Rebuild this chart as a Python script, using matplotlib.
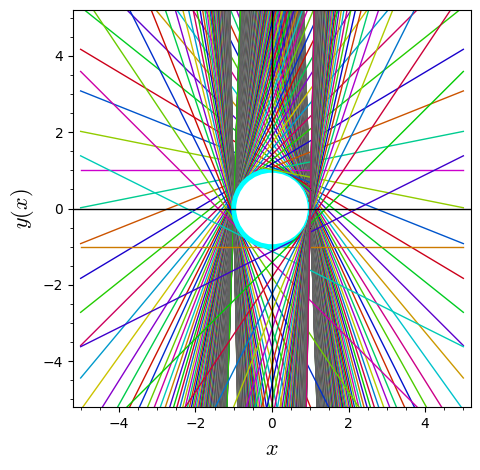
import colorsys
import matplotlib
matplotlib.use('Agg')
import matplotlib.pyplot as plt
from matplotlib.patches import Circle

# Lines y = m*x + b. Only the m >= 0 half is listed,
# the other half is the mirror image.
upper_slopes = [
    0.2, 0.4, 0.6, 0.8, 1.0, 1.2, 1.4, 1.6, 1.8, 2.0, 2.2, 2.4, 2.6, 2.8, 3.0, 3.2, 3.4, 3.6, 3.8, 4.0,
    4.2, 4.4, 4.6, 4.8, 5.0, 5.2, 5.4, 5.6, 5.8, 6.0, 6.2, 6.4, 6.6, 6.8, 7.0, 7.2, 7.4, 7.6, 7.8, 8.0,
    8.2, 8.4, 8.6, 8.8, 9.0, 9.2, 9.4, 9.6, 9.8, 10.0, 10.2, 10.4, 10.6, 10.8, 11.0, 11.2, 11.4, 11.6, 11.8, 12.0,
    12.2, 12.4, 12.6, 12.8, 13.0, 13.2, 13.4, 13.6, 13.8, 14.0, 14.2, 14.4, 14.6, 14.8, 15.0, 15.2, 15.4, 15.6, 15.8, 16.0,
    16.2, 16.4, 16.6, 16.8, 17.0, 17.2, 17.4, 17.6, 17.8, 18.0, 18.2, 18.4, 18.6, 18.8, 19.0, 19.2, 19.4, 19.6, 19.8, 20.0,
    20.2, 20.4, 20.6, 20.8, 21.0, 21.2, 21.4, 21.6, 21.8, 22.0, 22.2, 22.4, 22.6, 22.8, 23.0, 23.2, 23.4, 23.6, 23.8, 24.0,
    24.2, 24.4, 24.6, 24.8, 25.0, 25.2, 25.4, 25.6, 25.8, 26.0, 26.2, 26.4, 26.6, 26.8, 27.0, 27.2, 27.4, 27.6, 27.8, 28.0,
    28.2, 28.4, 28.6, 28.8, 29.0, 29.2, 29.4, 29.6,
]
upper_intercepts = [
    1.02, 1.08, 1.17, 1.28, 1.41, 1.56, 1.72, 1.89, 2.06, 2.24, 2.42, 2.60, 2.79, 2.97, 3.16, 3.35, 3.54, 3.74, 3.93, 4.12,
    4.32, 4.51, 4.71, 4.90, 5.10, 5.30, 5.49, 5.69, 5.89, 6.08, 6.28, 6.48, 6.68, 6.87, 7.07, 7.27, 7.47, 7.67, 7.86, 8.06,
    8.26, 8.46, 8.66, 8.86, 9.06, 9.25, 9.45, 9.65, 9.85, 10.05, 10.25, 10.45, 10.65, 10.85, 11.05, 11.24, 11.44, 11.64, 11.84, 12.04,
    12.24, 12.44, 12.64, 12.84, 13.04, 13.24, 13.44, 13.64, 13.84, 14.04, 14.24, 14.43, 14.63, 14.83, 15.03, 15.23, 15.43, 15.63, 15.83, 16.03,
    16.23, 16.43, 16.63, 16.83, 17.03, 17.23, 17.43, 17.63, 17.83, 18.03, 18.23, 18.43, 18.63, 18.83, 19.03, 19.23, 19.43, 19.63, 19.83, 20.02,
    20.22, 20.42, 20.62, 20.82, 21.02, 21.22, 21.42, 21.62, 21.82, 22.02, 22.22, 22.42, 22.62, 22.82, 23.02, 23.22, 23.42, 23.62, 23.82, 24.02,
    24.22, 24.42, 24.62, 24.82, 25.02, 25.22, 25.42, 25.62, 25.82, 26.02, 26.22, 26.42, 26.62, 26.82, 27.02, 27.22, 27.42, 27.62, 27.82, 28.02,
    28.22, 28.42, 28.62, 28.82, 29.02, 29.22, 29.42, 29.62,
]
lower_slopes = [
    0.5, 1.0, 1.5, 2.0, 2.5, 3.0, 3.5, 4.0, 4.5, 5.0, 5.5, 6.0, 6.5, 7.0, 7.5, 8.0, 8.5, 9.0, 9.5, 10.0,
    10.5, 11.0, 11.5, 12.0, 12.5, 13.0, 13.5, 14.0, 14.5, 15.0, 15.5, 16.0, 16.5, 17.0, 17.5, 18.0, 18.5, 19.0, 19.5, 20.0,
    20.5, 21.0, 21.5, 22.0, 22.5, 23.0, 23.5, 24.0, 24.5, 25.0, 25.5, 26.0, 26.5, 27.0, 27.5, 28.0, 28.5, 29.0, 29.5, 30.0,
    30.5, 31.0, 31.5, 32.0, 32.5, 33.0, 33.5, 34.0, 34.5, 35.0, 35.5, 36.0, 36.5, 37.0, 37.5, 38.0, 38.5, 39.0, 39.5, 40.0,
    40.5, 41.0, 41.5, 42.0, 42.5, 43.0, 43.5, 44.0, 44.5, 45.0, 45.5, 46.0, 46.5, 47.0, 47.5, 48.0, 48.5, 49.0, 49.5, 50.0,
]
lower_intercepts = [
    1.12, 1.41, 1.80, 2.24, 2.69, 3.16, 3.64, 4.12, 4.61, 5.10, 5.59, 6.08, 6.58, 7.07, 7.57, 8.06, 8.56, 9.06, 9.55, 10.05,
    10.55, 11.05, 11.54, 12.04, 12.54, 13.04, 13.54, 14.04, 14.53, 15.03, 15.53, 16.03, 16.53, 17.03, 17.53, 18.03, 18.53, 19.03, 19.53, 20.02,
    20.52, 21.02, 21.52, 22.02, 22.52, 23.02, 23.52, 24.02, 24.52, 25.02, 25.52, 26.02, 26.52, 27.02, 27.52, 28.02, 28.52, 29.02, 29.52, 30.02,
    30.52, 31.02, 31.52, 32.02, 32.52, 33.02, 33.51, 34.01, 34.51, 35.01, 35.51, 36.01, 36.51, 37.01, 37.51, 38.01, 38.51, 39.01, 39.51, 40.01,
    40.51, 41.01, 41.51, 42.01, 42.51, 43.01, 43.51, 44.01, 44.51, 45.01, 45.51, 46.01, 46.51, 47.01, 47.51, 48.01, 48.51, 49.01, 49.51, 50.01,
]
x_range = [-5, 5]
x_ticks = [-4, -2, 0, 2, 4]
y_ticks = [-4, -2, 0, 2, 4]

plt.rcParams['mathtext.fontset'] = 'cm'
plt.rcParams['font.size'] = 10

fig = plt.figure(figsize=(4.8, 4.7), dpi=100)
ax = fig.add_axes([73 / 480, 63 / 470, 398 / 480, 397 / 470])


def golden_colour(start, k):
    # each next line moves round the colour wheel by the golden ratio
    r, g, b = colorsys.hsv_to_rgb((start + 0.618 * k) % 1, 1.0, 0.8)
    return (r, g, b)


def draw_family(slopes, intercepts, sign, hue_start):
    n = len(slopes)
    all_m = [-m for m in reversed(slopes)] + [0] + list(slopes)
    all_b = list(reversed(intercepts)) + [1.0] + list(intercepts)
    for i, (m, b) in enumerate(zip(all_m, all_b)):
        ys = [m * x + sign * b for x in x_range]
        colour = golden_colour(hue_start, i - n)
        ax.plot(x_range, ys, color=colour, lw=1, zorder=2)
        # the lines touching the right half of the circle sit on top of it,
        # so redraw just the bit near the circle
        if m * sign < 0:
            top, = ax.plot(x_range, ys, color=colour, lw=1, zorder=4)
            top.set_clip_path(Circle((0, 0), 1.12, transform=ax.transData))


draw_family(upper_slopes, upper_intercepts, 1, 0.833)
draw_family(lower_slopes, lower_intercepts, -1, 0.1)

ax.add_patch(Circle((0, 0), 1, fill=False, ec='#00ffff', lw=3.5, zorder=3))

ax.axhline(0, color='black', lw=1, zorder=5)
ax.axvline(0, color='black', lw=1, zorder=5)

ax.set_xlim(-5.2, 5.2)
ax.set_ylim(-5.2, 5.2)
ax.set_xticks(x_ticks)
ax.set_yticks(y_ticks)
ax.set_xticks([-5, -4.5, -3.5, -3, -2.5, -1.5, -1, -0.5, 0.5, 1, 1.5, 2.5, 3, 3.5, 4.5, 5], minor=True)
ax.set_yticks([-5, -4.5, -3.5, -3, -2.5, -1.5, -1, -0.5, 0.5, 1, 1.5, 2.5, 3, 3.5, 4.5, 5], minor=True)

ax.set_xlabel('$x$', fontsize=16, labelpad=6)
ax.set_ylabel('$y(x)$', fontsize=16, labelpad=5)

plt.savefig('out.png', dpi=100, facecolor='white')
